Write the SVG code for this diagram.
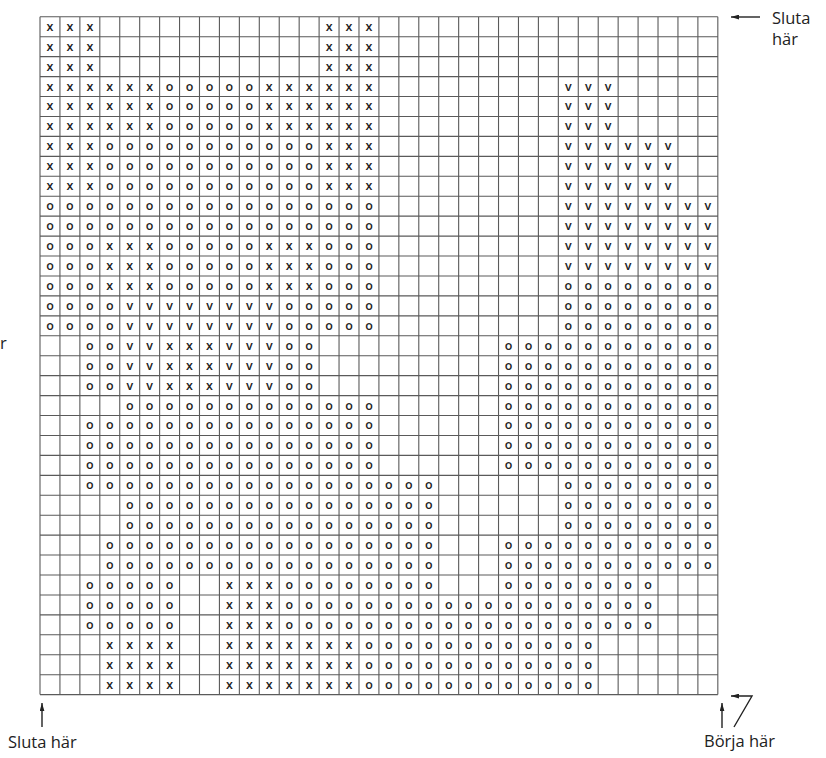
<svg xmlns="http://www.w3.org/2000/svg" width="826" height="758" viewBox="0 0 826 758">
<style>
.g{fill:none;stroke:#5a5a5a;stroke-width:1.1}
.s{font-family:"Open Sans","Liberation Sans",sans-serif;font-size:12.5px;font-weight:600;fill:#222;text-anchor:middle}
.l{font-family:"Open Sans","Liberation Sans",sans-serif;font-size:16.5px;fill:#222}
.a{fill:none;stroke:#222;stroke-width:1.4}
</style>
<defs>
<marker id="ah" viewBox="0 0 10 6" refX="10" refY="3" markerWidth="8" markerHeight="5" markerUnits="userSpaceOnUse" orient="auto"><path d="M0,0L10,3L0,6z" fill="#222"/></marker>
</defs>
<rect width="826" height="758" fill="#fff"/>
<g id="chart" transform="translate(40,16.8) scale(0.9968)">
<path class="g" d="M0 0V680M20 0V680M40 0V680M60 0V680M80 0V680M100 0V680M120 0V680M140 0V680M160 0V680M180 0V680M200 0V680M220 0V680M240 0V680M260 0V680M280 0V680M300 0V680M320 0V680M340 0V680M360 0V680M380 0V680M400 0V680M420 0V680M440 0V680M460 0V680M480 0V680M500 0V680M520 0V680M540 0V680M560 0V680M580 0V680M600 0V680M620 0V680M640 0V680M660 0V680M680 0V680M0 0H680M0 20H680M0 40H680M0 60H680M0 80H680M0 100H680M0 120H680M0 140H680M0 160H680M0 180H680M0 200H680M0 220H680M0 240H680M0 260H680M0 280H680M0 300H680M0 320H680M0 340H680M0 360H680M0 380H680M0 400H680M0 420H680M0 440H680M0 460H680M0 480H680M0 500H680M0 520H680M0 540H680M0 560H680M0 580H680M0 600H680M0 620H680M0 640H680M0 660H680M0 680H680"/>
<g class="s">
<text x="10 30 50" y="14">xxx</text><text x="290 310 330" y="14">xxx</text>
<text x="10 30 50" y="34">xxx</text><text x="290 310 330" y="34">xxx</text>
<text x="10 30 50" y="54">xxx</text><text x="290 310 330" y="54">xxx</text>

<text x="10 30 50 70 90 110" y="74">xxxxxx</text><text x="130 150 170 190 210" y="74">ooooo</text><text x="230 250 270 290 310 330" y="74">xxxxxx</text><text x="530 550 570" y="74">vvv</text>
<text x="10 30 50 70 90 110" y="94">xxxxxx</text><text x="130 150 170 190 210" y="94">ooooo</text><text x="230 250 270 290 310 330" y="94">xxxxxx</text><text x="530 550 570" y="94">vvv</text>
<text x="10 30 50 70 90 110" y="114">xxxxxx</text><text x="130 150 170 190 210" y="114">ooooo</text><text x="230 250 270 290 310 330" y="114">xxxxxx</text><text x="530 550 570" y="114">vvv</text>

<text x="10 30 50" y="134">xxx</text><text x="70 90 110 130 150 170 190 210 230 250 270" y="134">ooooooooooo</text><text x="290 310 330" y="134">xxx</text><text x="530 550 570 590 610 630" y="134">vvvvvv</text>
<text x="10 30 50" y="154">xxx</text><text x="70 90 110 130 150 170 190 210 230 250 270" y="154">ooooooooooo</text><text x="290 310 330" y="154">xxx</text><text x="530 550 570 590 610 630" y="154">vvvvvv</text>
<text x="10 30 50" y="174">xxx</text><text x="70 90 110 130 150 170 190 210 230 250 270" y="174">ooooooooooo</text><text x="290 310 330" y="174">xxx</text><text x="530 550 570 590 610 630" y="174">vvvvvv</text>

<text x="10 30 50 70 90 110 130 150 170 190 210 230 250 270 290 310 330" y="194">ooooooooooooooooo</text><text x="530 550 570 590 610 630 650 670" y="194">vvvvvvvv</text>
<text x="10 30 50 70 90 110 130 150 170 190 210 230 250 270 290 310 330" y="214">ooooooooooooooooo</text><text x="530 550 570 590 610 630 650 670" y="214">vvvvvvvv</text>

<text x="10 30 50" y="234">ooo</text><text x="70 90 110" y="234">xxx</text><text x="130 150 170 190 210" y="234">ooooo</text><text x="230 250 270" y="234">xxx</text><text x="290 310 330" y="234">ooo</text><text x="530 550 570 590 610 630 650 670" y="234">vvvvvvvv</text>
<text x="10 30 50" y="254">ooo</text><text x="70 90 110" y="254">xxx</text><text x="130 150 170 190 210" y="254">ooooo</text><text x="230 250 270" y="254">xxx</text><text x="290 310 330" y="254">ooo</text><text x="530 550 570 590 610 630 650 670" y="254">vvvvvvvv</text>
<text x="10 30 50" y="274">ooo</text><text x="70 90 110" y="274">xxx</text><text x="130 150 170 190 210" y="274">ooooo</text><text x="230 250 270" y="274">xxx</text><text x="290 310 330" y="274">ooo</text><text x="530 550 570 590 610 630 650 670" y="274">oooooooo</text>

<text x="10 30 50 70" y="294">oooo</text><text x="90 110 130 150 170 190 210 230" y="294">vvvvvvvv</text><text x="250 270 290 310 330" y="294">ooooo</text><text x="530 550 570 590 610 630 650 670" y="294">oooooooo</text>
<text x="10 30 50 70" y="314">oooo</text><text x="90 110 130 150 170 190 210 230" y="314">vvvvvvvv</text><text x="250 270 290 310 330" y="314">ooooo</text><text x="530 550 570 590 610 630 650 670" y="314">oooooooo</text>

<text x="50 70" y="334">oo</text><text x="90 110" y="334">vv</text><text x="130 150 170" y="334">xxx</text><text x="190 210 230" y="334">vvv</text><text x="250 270" y="334">oo</text><text x="470 490 510 530 550 570 590 610 630 650 670" y="334">ooooooooooo</text>
<text x="50 70" y="354">oo</text><text x="90 110" y="354">vv</text><text x="130 150 170" y="354">xxx</text><text x="190 210 230" y="354">vvv</text><text x="250 270" y="354">oo</text><text x="470 490 510 530 550 570 590 610 630 650 670" y="354">ooooooooooo</text>
<text x="50 70" y="374">oo</text><text x="90 110" y="374">vv</text><text x="130 150 170" y="374">xxx</text><text x="190 210 230" y="374">vvv</text><text x="250 270" y="374">oo</text><text x="470 490 510 530 550 570 590 610 630 650 670" y="374">ooooooooooo</text>

<text x="90 110 130 150 170 190 210 230 250 270 290 310 330" y="394">ooooooooooooo</text><text x="470 490 510 530 550 570 590 610 630 650 670" y="394">ooooooooooo</text>

<text x="50 70 90 110 130 150 170 190 210 230 250 270 290 310 330" y="414">ooooooooooooooo</text><text x="470 490 510 530 550 570 590 610 630 650 670" y="414">ooooooooooo</text>
<text x="50 70 90 110 130 150 170 190 210 230 250 270 290 310 330" y="434">ooooooooooooooo</text><text x="470 490 510 530 550 570 590 610 630 650 670" y="434">ooooooooooo</text>
<text x="50 70 90 110 130 150 170 190 210 230 250 270 290 310 330" y="454">ooooooooooooooo</text><text x="470 490 510 530 550 570 590 610 630 650 670" y="454">ooooooooooo</text>

<text x="50 70 90 110 130 150 170 190 210 230 250 270 290 310 330 350 370 390" y="474">oooooooooooooooooo</text><text x="530 550 570 590 610 630 650 670" y="474">oooooooo</text>

<text x="90 110 130 150 170 190 210 230 250 270 290 310 330 350 370 390" y="494">oooooooooooooooo</text><text x="530 550 570 590 610 630 650 670" y="494">oooooooo</text>
<text x="90 110 130 150 170 190 210 230 250 270 290 310 330 350 370 390" y="514">oooooooooooooooo</text><text x="530 550 570 590 610 630 650 670" y="514">oooooooo</text>

<text x="70 90 110 130 150 170 190 210 230 250 270 290 310 330 350 370 390" y="534">ooooooooooooooooo</text><text x="470 490 510 530 550 570 590 610 630 650 670" y="534">ooooooooooo</text>
<text x="70 90 110 130 150 170 190 210 230 250 270 290 310 330 350 370 390" y="554">ooooooooooooooooo</text><text x="470 490 510 530 550 570 590 610 630 650 670" y="554">ooooooooooo</text>

<text x="50 70 90 110 130" y="574">ooooo</text><text x="190 210 230" y="574">xxx</text><text x="250 270 290 310 330 350 370 390" y="574">oooooooo</text><text x="470 490 510 530 550 570 590 610" y="574">oooooooo</text>

<text x="50 70 90 110 130" y="594">ooooo</text><text x="190 210 230" y="594">xxx</text><text x="250 270 290 310 330 350 370 390 410 430 450 470 490 510 530 550 570 590 610" y="594">ooooooooooooooooooo</text>
<text x="50 70 90 110 130" y="614">ooooo</text><text x="190 210 230" y="614">xxx</text><text x="250 270 290 310 330 350 370 390 410 430 450 470 490 510 530 550 570 590 610" y="614">ooooooooooooooooooo</text>

<text x="70 90 110 130" y="634">xxxx</text><text x="190 210 230 250 270 290 310" y="634">xxxxxxx</text><text x="330 350 370 390 410 430 450 470 490 510 530 550" y="634">oooooooooooo</text>
<text x="70 90 110 130" y="654">xxxx</text><text x="190 210 230 250 270 290 310" y="654">xxxxxxx</text><text x="330 350 370 390 410 430 450 470 490 510 530 550" y="654">oooooooooooo</text>
<text x="70 90 110 130" y="674">xxxx</text><text x="190 210 230 250 270 290 310" y="674">xxxxxxx</text><text x="330 350 370 390 410 430 450 470 490 510 530 550" y="674">oooooooooooo</text>
</g>
</g>
<g id="connectors">
<line class="a" x1="760" y1="17" x2="731" y2="17" marker-end="url(#ah)"/>
<line class="a" x1="42" y1="727" x2="42" y2="703" marker-end="url(#ah)"/>
<line class="a" x1="722" y1="728" x2="722" y2="703" marker-end="url(#ah)"/>
<polyline class="a" points="734,727 752,696 731,696" marker-end="url(#ah)"/>
</g>
<g id="labels">
<text class="l" x="772" y="23.5">Sluta</text>
<text class="l" x="772" y="44.5">här</text>
<text class="l" x="8" y="748">Sluta här</text>
<text class="l" x="704" y="747">Börja här</text>
<text class="l" x="0" y="349">r</text>
</g>
</svg>
